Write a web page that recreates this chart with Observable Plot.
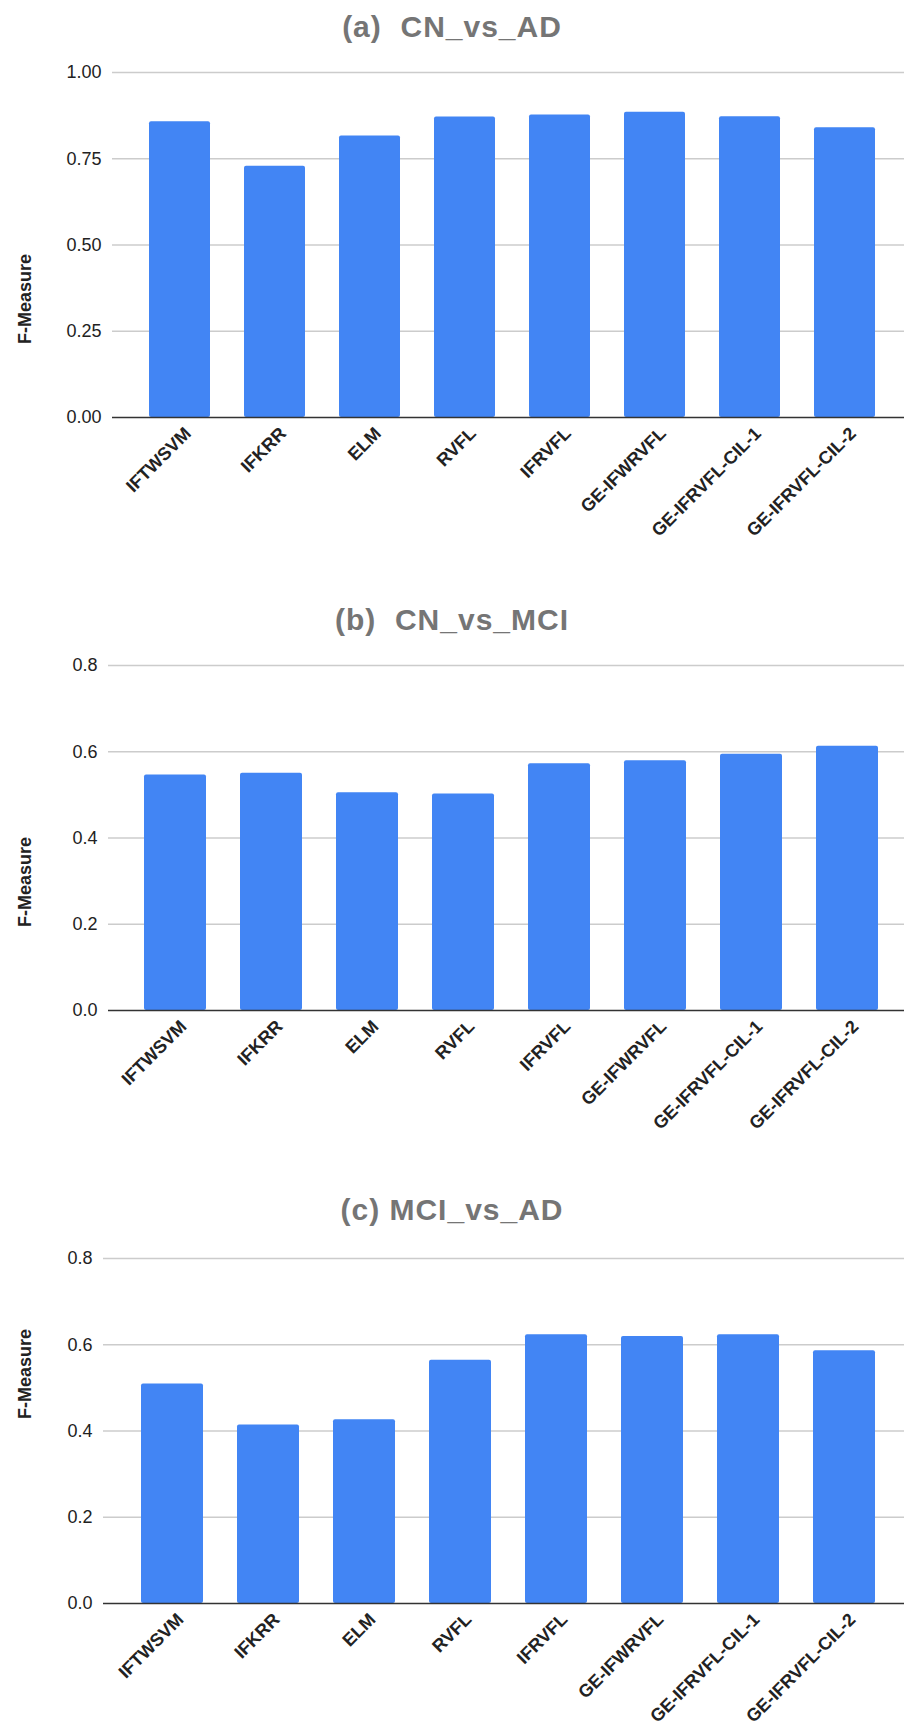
<!DOCTYPE html>
<html>
<head>
<meta charset="utf-8">
<script src="https://cdn.jsdelivr.net/npm/d3@7"></script>
<script src="https://cdn.jsdelivr.net/npm/@observablehq/plot@0.6"></script>
<style>
html, body { margin: 0; padding: 0; background: #ffffff; overflow: hidden; width: 904px; }
.panel { position: relative; width: 904px; height: 593px; overflow: hidden; }
.title { height: 56px; text-align: center; font-family: "Liberation Sans", Arial, sans-serif; font-weight: bold; font-size: 30px; color: #757575; letter-spacing: 1px; white-space: pre; }
.panel svg { display: block; }
</style>
</head>
<body>
<div id="chart"></div>
<script>
// ---- data ----
const methods = ["IFTWSVM", "IFKRR", "ELM", "RVFL", "IFRVFL", "GE-IFWRVFL", "GE-IFRVFL-CIL-1", "GE-IFRVFL-CIL-2"];
const titles = ["(a)  CN_vs_AD", "(b)  CN_vs_MCI", "(c) MCI_vs_AD"];
const fmeasureCNvsAD  = [0.857, 0.728, 0.816, 0.871, 0.877, 0.885, 0.872, 0.840];
const fmeasureCNvsMCI = [0.546, 0.550, 0.505, 0.502, 0.572, 0.579, 0.594, 0.613];
const fmeasureMCIvsAD = [0.509, 0.414, 0.426, 0.564, 0.623, 0.619, 0.623, 0.586];
const yTicksA  = [0, 0.25, 0.5, 0.75, 1.0];
const yTicksBC = [0, 0.2, 0.4, 0.6, 0.8];
const yLabel = "F-Measure";

// ---- layout per panel ----
const panels = [
  {title: titles[0], values: fmeasureCNvsAD,  ticks: yTicksA,  fmt: d3.format(".2f"), left: 112, titleTop: 10, labelDy: 54},
  {title: titles[1], values: fmeasureCNvsMCI, ticks: yTicksBC, fmt: d3.format(".1f"), left: 108, titleTop: 10, labelDy: 44},
  {title: titles[2], values: fmeasureMCIvsAD, ticks: yTicksBC, fmt: d3.format(".1f"), left: 103, titleTop: 7,  labelDy: -57}
];

const font = "Liberation Sans, Arial, sans-serif";
const root = document.getElementById("chart");

for (const p of panels) {
  const data = methods.map((m, i) => ({method: m, value: p.values[i]}));
  const div = document.createElement("div");
  div.className = "panel";
  const t = document.createElement("div");
  t.className = "title";
  t.style.paddingTop = p.titleTop + "px";
  t.style.height = (56 - p.titleTop) + "px";
  t.textContent = p.title;
  div.appendChild(t);

  const plot = Plot.plot({
    width: 904,
    height: 537,
    marginTop: 16,
    marginBottom: 176,
    marginLeft: p.left,
    marginRight: 0,
    style: {fontFamily: font, fontSize: "18px", color: "#222222", background: "#ffffff", overflow: "visible"},
    x: {type: "band", domain: methods, range: [p.left, 913], padding: 0.355, axis: null},
    y: {domain: [0, p.ticks[p.ticks.length - 1]], axis: null},
    marks: [
      Plot.ruleY(p.ticks.filter(d => d > 0), {stroke: "#cccccc", strokeWidth: 1.3}),
      Plot.barY(data, {x: "method", y: "value", fill: "#4285f4", rx: 2}),
      Plot.ruleY([0], {stroke: "#333333", strokeWidth: 1.5}),
      Plot.axisY({ticks: p.ticks, tickFormat: p.fmt, tickSize: 0, tickPadding: 11, fontSize: 18, fill: "#222222", label: null}),
      Plot.axisX({tickSize: 0, tickPadding: 0, tickRotate: -45, fontWeight: "bold", fontSize: 18, fill: "#222222", label: null, dx: 8, dy: 13}),
      Plot.text([yLabel], {frameAnchor: "left", text: d => d, rotate: -90, dx: 25 - p.left, dy: p.labelDy, fontWeight: "bold", fontSize: 18, fill: "#222222", textAnchor: "middle", lineAnchor: "middle"})
    ]
  });
  div.appendChild(plot);
  root.appendChild(div);
}
</script>
</body>
</html>
